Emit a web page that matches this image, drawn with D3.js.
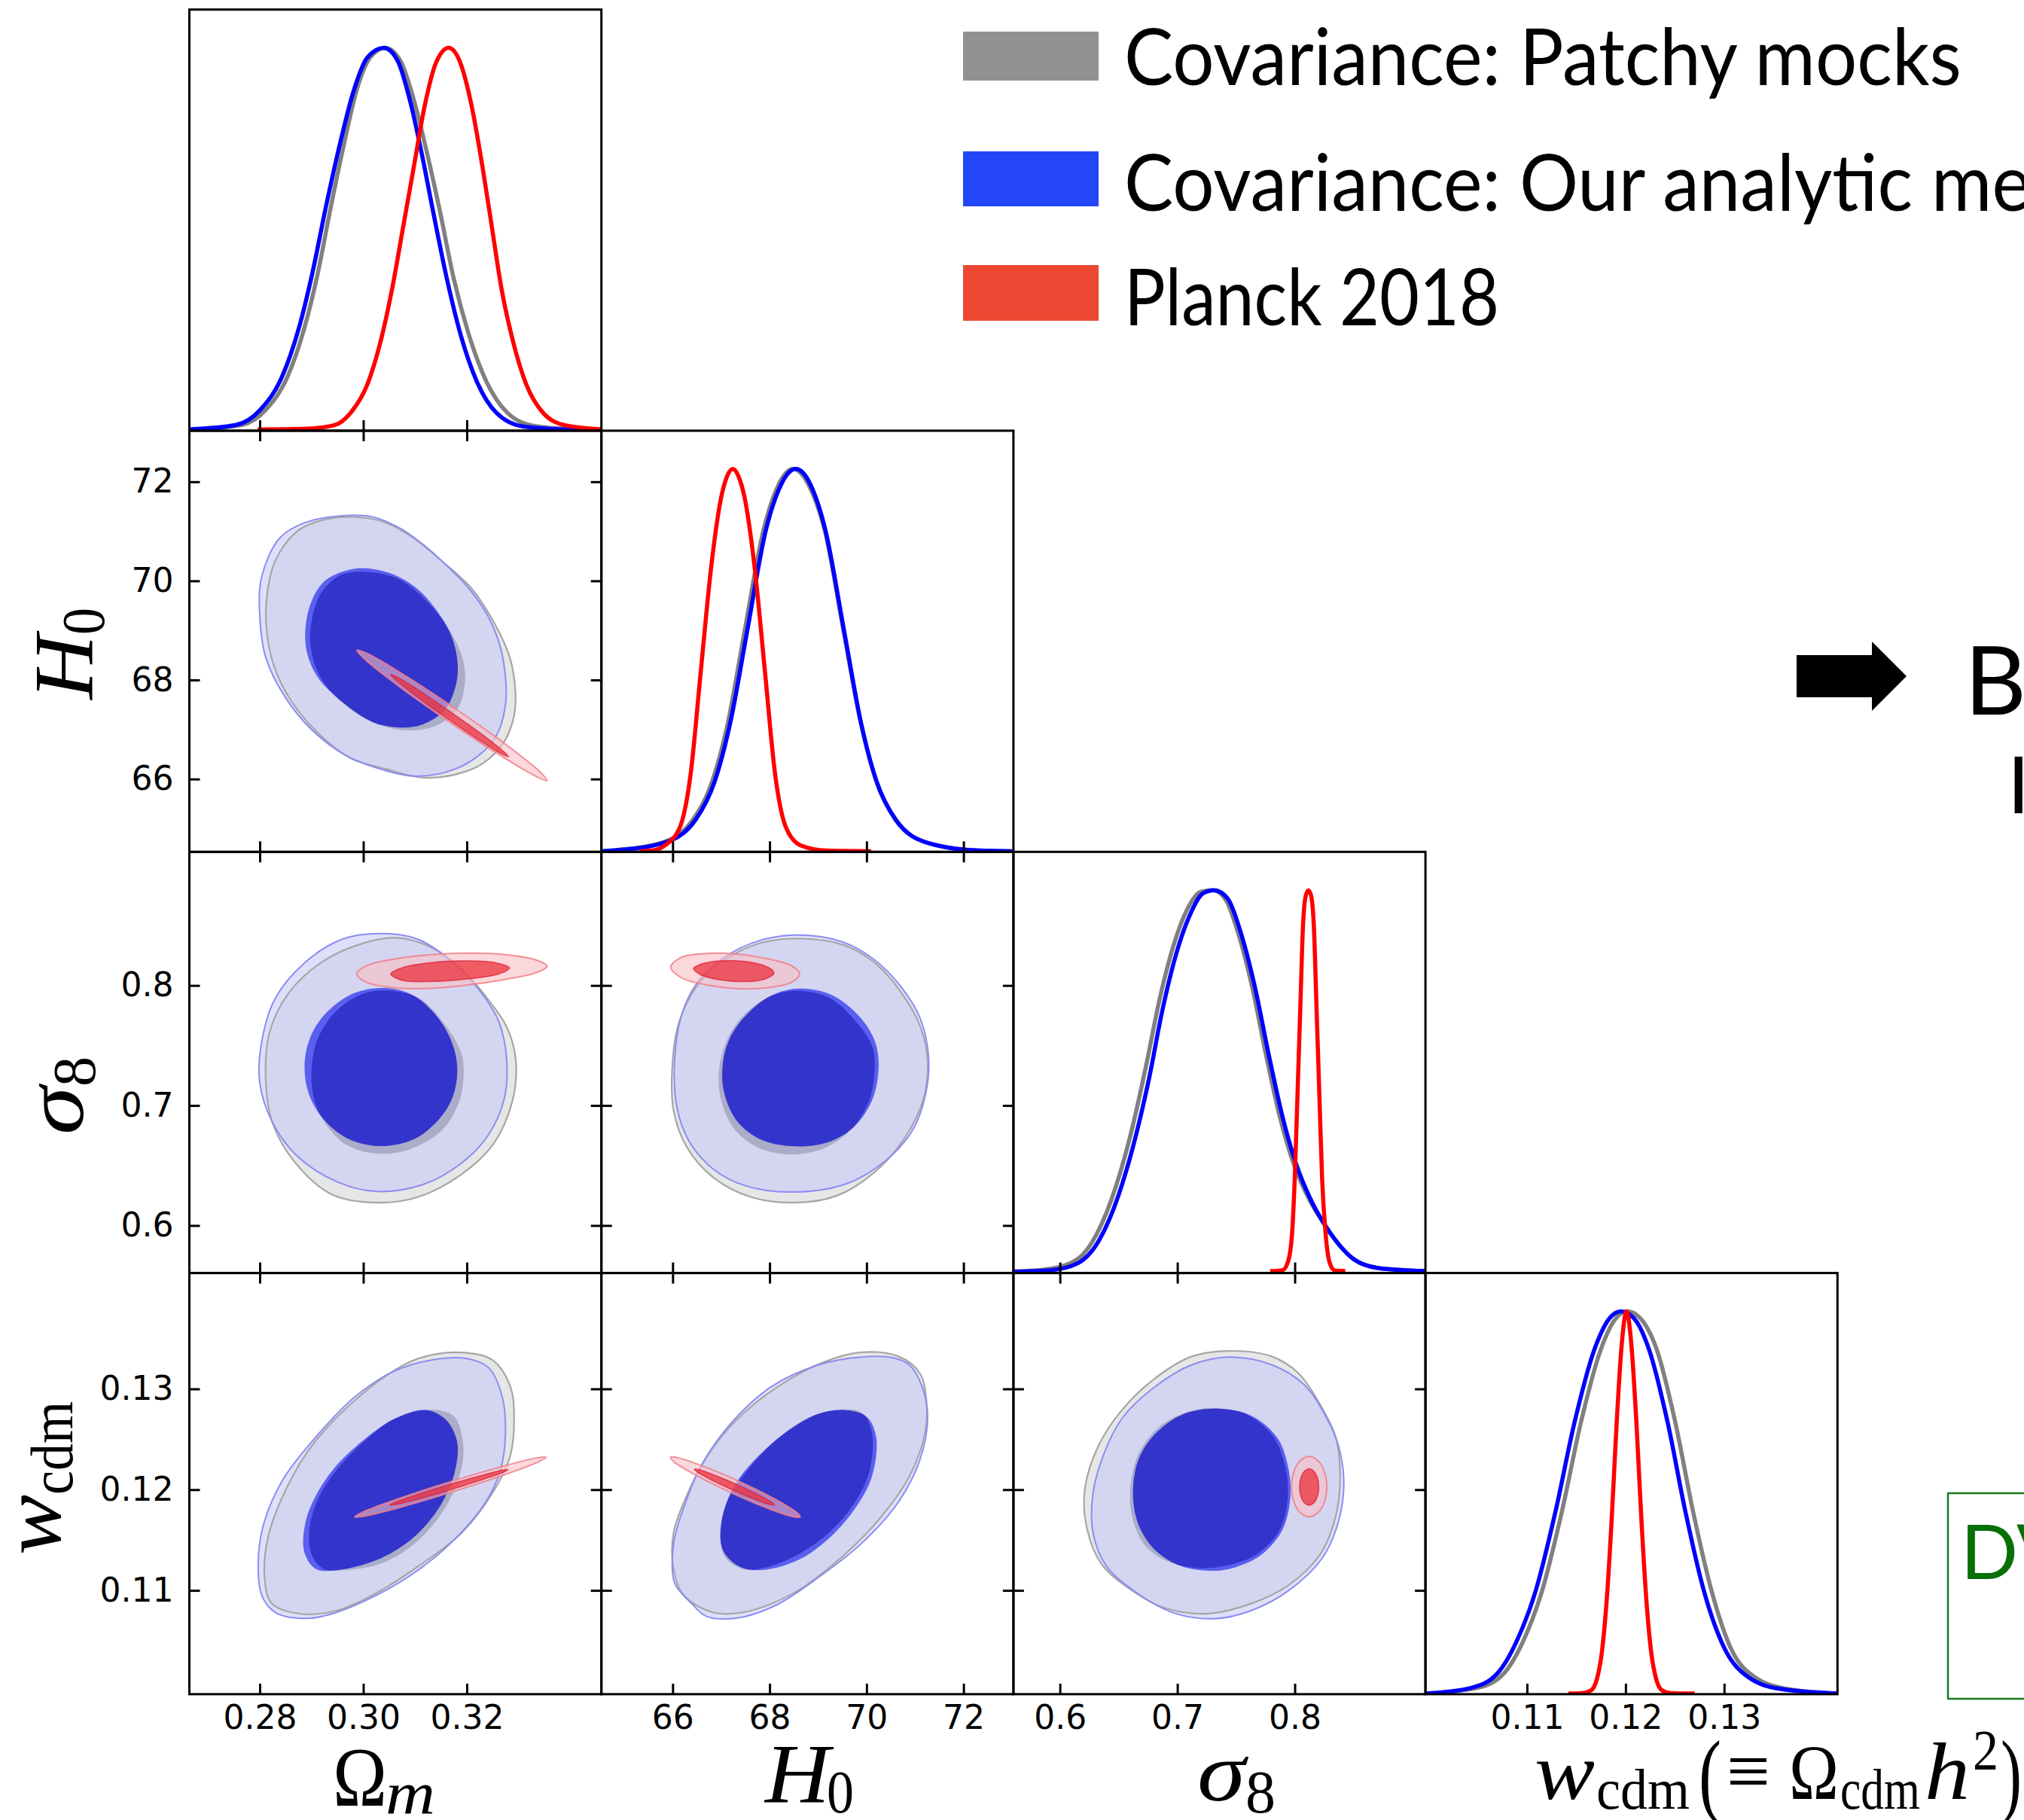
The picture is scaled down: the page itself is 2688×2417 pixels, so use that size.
<!DOCTYPE html>
<html>
<head>
<meta charset="utf-8">
<script src="https://cdn.jsdelivr.net/npm/d3@7"></script>
<style>
  html, body { margin: 0; padding: 0; background: #fff; }
  svg { display: block; }
</style>
</head>
<body>
<svg id="chart" width="2688" height="2417"></svg>
<script>
// ---------------------------------------------------------------------------
// Parameters, axis ranges and tick values
// ---------------------------------------------------------------------------
const paramDomains = [[0.2664, 0.3460], [64.53, 73.03], [0.5604, 0.9113], [0.0997, 0.1415]];
const omegaTicks = [0.28, 0.30, 0.32];
const h0Ticks = [66, 68, 70, 72];
const sigma8Ticks = [0.6, 0.7, 0.8];
const wcdmTicks = [0.11, 0.12, 0.13];
const seriesNames = ["Covariance: Patchy mocks", "Covariance: Our analytic method", "Planck 2018"];

// ---------------------------------------------------------------------------
// 1D marginal posteriors  [value, normalised density]
// ---------------------------------------------------------------------------
const omPatchy1D = [[0.26633,0.0022],[0.2764,0.0146],[0.28117,0.0547],[0.2854,0.1423],[0.28858,0.2664],[0.29123,0.4124],[0.29377,0.5876],[0.29626,0.7482],[0.29865,0.8868],[0.3013,0.9744],[0.30421,1.0],[0.30713,0.9671],[0.31004,0.8503],[0.31242,0.719],[0.31481,0.573],[0.31746,0.3978],[0.32037,0.2518],[0.32381,0.1277],[0.32779,0.0474],[0.33309,0.0124],[0.33891,0.0051],[0.34607,0.0022]];
const omAnalytic1D = [[0.26633,0.0036],[0.27534,0.0146],[0.28011,0.0547],[0.28434,0.1423],[0.28752,0.2664],[0.29017,0.4124],[0.29282,0.5876],[0.29547,0.7482],[0.29812,0.8868],[0.30077,0.9744],[0.30395,1.0],[0.3066,0.9671],[0.30924,0.8503],[0.31136,0.719],[0.31348,0.573],[0.31613,0.3978],[0.31878,0.2518],[0.32196,0.1277],[0.32567,0.0474],[0.33097,0.011],[0.33891,0.0036],[0.34607,0.0022]];
const omPlanck1D = [[0.27958,0.0036],[0.28858,0.0051],[0.29441,0.0146],[0.29759,0.0474],[0.30077,0.1204],[0.30342,0.2372],[0.30554,0.3686],[0.30766,0.5292],[0.30977,0.6898],[0.31189,0.8503],[0.31401,0.9598],[0.3165,1.0],[0.31878,0.9598],[0.3209,0.8503],[0.32302,0.6898],[0.32487,0.5292],[0.32673,0.3686],[0.32885,0.2372],[0.3315,0.1204],[0.33468,0.0474],[0.33891,0.0146],[0.34607,0.0036]];

const h0Patchy1D = [[64.546,0.0017],[64.71,0.0034],[65.76,0.0236],[66.42,0.0844],[66.82,0.1856],[67.14,0.3374],[67.48,0.5736],[67.88,0.8435],[68.19,0.96],[68.34,0.99],[68.49,1.0],[68.64,0.99],[68.80,0.96],[69.13,0.8435],[69.53,0.5736],[69.88,0.3374],[70.20,0.1856],[70.60,0.0844],[71.26,0.0236],[72.32,0.0034],[73.0,0.0017]];
const h0Analytic1D = [[64.546,0.0017],[64.758,0.0034],[65.815,0.0236],[66.476,0.0844],[66.872,0.1856],[67.189,0.3374],[67.533,0.5736],[67.929,0.8435],[68.24,0.96],[68.39,0.99],[68.54,1.0],[68.69,0.99],[68.84,0.96],[69.145,0.8435],[69.542,0.5736],[69.885,0.3374],[70.202,0.1856],[70.599,0.0844],[71.26,0.0236],[72.317,0.0034],[73.004,0.0017]];
const h0Planck1D = [[65.313,0.0017],[65.577,0.0034],[65.841,0.0169],[66.159,0.0675],[66.37,0.2024],[66.581,0.4724],[66.793,0.7423],[67.004,0.9279],[67.12,0.98],[67.242,1.0],[67.36,0.98],[67.48,0.9279],[67.692,0.7423],[67.903,0.4724],[68.114,0.2024],[68.326,0.0675],[68.643,0.0169],[69.172,0.0034],[70.097,0.0017]];

const s8Patchy1D = [[0.56047,0.0036],[0.59186,0.0109],[0.61512,0.0365],[0.6314,0.1021],[0.64767,0.2261],[0.66163,0.3793],[0.67326,0.5398],[0.68488,0.7148],[0.69651,0.8534],[0.70814,0.9482],[0.71977,0.9956],[0.73023,1.0],[0.7407,0.9774],[0.75233,0.8826],[0.76395,0.744],[0.77558,0.5689],[0.78721,0.4085],[0.8,0.2772],[0.81279,0.1896],[0.82442,0.1313],[0.83605,0.0802],[0.85,0.0365],[0.87093,0.0131],[0.91047,0.0051]];
const s8Analytic1D = [[0.56047,0.0036],[0.59186,0.0073],[0.61512,0.0255],[0.63372,0.0875],[0.65,0.2042],[0.66395,0.3501],[0.67558,0.5033],[0.68721,0.6856],[0.69884,0.8315],[0.71047,0.9336],[0.72209,0.992],[0.7314,1.0],[0.74302,0.9774],[0.75465,0.8826],[0.76628,0.744],[0.77791,0.5689],[0.78953,0.4085],[0.80116,0.2845],[0.81279,0.1969],[0.82442,0.1313],[0.83605,0.0802],[0.85,0.0365],[0.87093,0.0131],[0.91047,0.0051]];
const s8Planck1D = [[0.77907,0.0051],[0.78953,0.0073],[0.79419,0.0292],[0.79767,0.1021],[0.8,0.248],[0.80233,0.4668],[0.80465,0.6856],[0.80698,0.9045],[0.8093,0.9847],[0.81163,0.9993],[0.81395,0.9847],[0.81628,0.9045],[0.8186,0.6856],[0.82093,0.4668],[0.82326,0.248],[0.82628,0.1021],[0.82953,0.0292],[0.83372,0.0073],[0.84302,0.0051]];

const wPatchy1D = [[0.0998,0.0017],[0.10503,0.0169],[0.10765,0.054],[0.10961,0.1383],[0.11157,0.2733],[0.11353,0.4757],[0.11549,0.7119],[0.11745,0.8975],[0.11902,0.9818],[0.1202,1.0],[0.1215,0.9818],[0.1232,0.8975],[0.12503,0.7119],[0.12686,0.4757],[0.12869,0.2733],[0.13065,0.1215],[0.13314,0.0439],[0.13641,0.0135],[0.1415,0.0017]];
const wAnalytic1D = [[0.0998,0.0017],[0.10438,0.0169],[0.10699,0.054],[0.10895,0.1383],[0.11092,0.2733],[0.11288,0.4757],[0.11484,0.7119],[0.1168,0.8975],[0.11837,0.9818],[0.11954,1.0],[0.12085,0.9818],[0.12242,0.8975],[0.12425,0.7119],[0.12608,0.4757],[0.12791,0.2733],[0.13,0.1215],[0.13248,0.0439],[0.13575,0.0135],[0.1415,0.0017]];
const wPlanck1D = [[0.1142,0.0017],[0.1156,0.003],[0.1165,0.01],[0.1171,0.04],[0.1176,0.11],[0.1181,0.25],[0.1186,0.46],[0.1191,0.71],[0.1196,0.91],[0.1201,1.0],[0.1206,0.91],[0.1211,0.71],[0.1216,0.46],[0.1221,0.25],[0.1226,0.11],[0.1231,0.04],[0.1237,0.01],[0.1246,0.003],[0.127,0.0017]];

// ---------------------------------------------------------------------------
// 2D credible-region outlines (68% inner, 95% outer)  [x value, y value]
// ---------------------------------------------------------------------------
// Omega_m vs H0
const omH0PatchyOuter = [[0.28127,69.07],[0.28143,69.74],[0.28302,70.41],[0.28699,70.98],[0.29123,71.20],[0.29812,71.29],[0.30448,71.17],[0.30977,70.86],[0.3156,70.36],[0.3209,69.85],[0.32514,69.18],[0.32832,68.45],[0.32938,67.77],[0.32911,67.27],[0.32726,66.76],[0.32302,66.31],[0.31772,66.09],[0.31136,66.03],[0.30448,66.20],[0.29759,66.42],[0.29123,66.93],[0.28593,67.60],[0.28275,68.28]];
const omH0PatchyInner = [[0.28991,69.12],[0.29176,69.74],[0.29547,70.11],[0.30077,70.18],[0.30713,70.02],[0.31242,69.57],[0.31666,69.01],[0.31931,68.39],[0.31958,67.88],[0.31825,67.43],[0.31454,67.10],[0.30925,66.98],[0.30289,67.10],[0.29653,67.49],[0.29176,68.05],[0.28991,68.62]];
const omH0AnalyticOuter = [[0.28037,70.08],[0.28381,70.86],[0.28858,71.17],[0.29547,71.31],[0.30183,71.29],[0.30713,71.06],[0.31136,70.75],[0.3156,70.36],[0.32037,69.85],[0.32408,69.29],[0.32646,68.67],[0.32752,68.00],[0.32752,67.55],[0.3262,66.98],[0.32355,66.59],[0.31772,66.20],[0.30977,66.06],[0.30183,66.25],[0.29653,66.48],[0.29017,66.98],[0.28487,67.66],[0.28117,68.45],[0.28,69.29]];
const omH0AnalyticInner = [[0.28885,69.07],[0.29017,69.63],[0.29282,70.02],[0.29865,70.25],[0.30501,70.16],[0.31031,69.85],[0.31454,69.35],[0.31719,68.84],[0.31825,68.28],[0.31772,67.83],[0.3156,67.38],[0.31136,67.10],[0.30713,67.04],[0.30183,67.15],[0.296,67.55],[0.29123,68.05],[0.28911,68.56]];
const omH0PlanckOuter = [[0.3355,65.97],[0.33345,66.05],[0.32565,66.53],[0.31637,67.17],[0.30729,67.84],[0.30019,68.43],[0.29878,68.60],[0.30083,68.53],[0.30863,68.05],[0.31791,67.41],[0.32699,66.74],[0.33409,66.15]];
const omH0PlanckInner = [[0.32806,66.45],[0.32683,66.50],[0.32202,66.81],[0.31627,67.22],[0.31062,67.64],[0.30617,68.01],[0.30526,68.11],[0.3065,68.06],[0.3113,67.75],[0.31705,67.34],[0.3227,66.92],[0.32716,66.55]];

// Omega_m vs sigma8
const omS8PatchyOuter = [[0.30635,0.83972],[0.3126,0.83275],[0.31886,0.81417],[0.32406,0.78862],[0.32771,0.76539],[0.32948,0.73751],[0.32875,0.70267],[0.32511,0.66783],[0.31886,0.64228],[0.31052,0.62369],[0.30219,0.61905],[0.29385,0.62602],[0.28656,0.65389],[0.2824,0.68641],[0.28115,0.72125],[0.28188,0.76074],[0.28552,0.79326],[0.29177,0.81882],[0.29906,0.83391]];
const omS8PatchyInner = [[0.30531,0.79559],[0.31104,0.78862],[0.31573,0.76771],[0.31865,0.74681],[0.31938,0.73287],[0.31865,0.70499],[0.31521,0.67944],[0.30948,0.66434],[0.30323,0.6597],[0.29698,0.66667],[0.29281,0.68409],[0.29052,0.70499],[0.29,0.73055],[0.29125,0.7561],[0.2949,0.77933],[0.3001,0.79326]];
const omS8AnalyticOuter = [[0.30375,0.84321],[0.31052,0.83856],[0.31677,0.82114],[0.3225,0.79559],[0.32615,0.77003],[0.32771,0.73751],[0.32719,0.70499],[0.32406,0.6748],[0.31886,0.65157],[0.31156,0.63414],[0.30271,0.62834],[0.2949,0.63647],[0.28708,0.65854],[0.2824,0.68641],[0.28,0.71893],[0.28031,0.75145],[0.28292,0.78862],[0.28865,0.81882],[0.29594,0.83856]];
const omS8AnalyticInner = [[0.30427,0.79791],[0.30948,0.7921],[0.31365,0.777],[0.31677,0.7561],[0.31813,0.73287],[0.31729,0.70732],[0.31417,0.68641],[0.30948,0.67131],[0.30323,0.6662],[0.29698,0.67247],[0.29229,0.68873],[0.28948,0.70964],[0.28865,0.73287],[0.28969,0.7561],[0.29281,0.777],[0.29802,0.79326]];
const omS8PlanckOuter = [[0.29875,0.80952],[0.30063,0.81649],[0.30635,0.8223],[0.31365,0.82578],[0.3199,0.82695],[0.32719,0.82578],[0.33344,0.82114],[0.33552,0.81603],[0.33344,0.81069],[0.32719,0.80488],[0.3199,0.80023],[0.3126,0.79744],[0.30635,0.79791],[0.30063,0.80256]];
const omS8PlanckInner = [[0.30531,0.80952],[0.3074,0.81463],[0.31365,0.81928],[0.3199,0.82044],[0.32563,0.81882],[0.32823,0.81463],[0.32615,0.80952],[0.3199,0.80534],[0.3126,0.80325],[0.3074,0.80441]];

// H0 vs sigma8
const h0S8PatchyOuter = [[68.62,0.83902],[69.51,0.83391],[70.17,0.81882],[70.73,0.79326],[71.11,0.76539],[71.26,0.73751],[71.17,0.70499],[70.78,0.67247],[70.17,0.6446],[69.39,0.62485],[68.51,0.61905],[67.62,0.62369],[66.84,0.63995],[66.29,0.6655],[66.02,0.6957],[65.99,0.73055],[66.12,0.76771],[66.51,0.80023],[67.07,0.82114],[67.79,0.83508]];
const h0S8PatchyInner = [[68.56,0.79559],[69.23,0.78978],[69.78,0.77003],[70.12,0.74913],[70.17,0.73287],[70.06,0.70499],[69.67,0.67944],[69.12,0.66434],[68.45,0.65923],[67.79,0.66434],[67.29,0.67944],[67.01,0.70267],[66.95,0.7259],[67.09,0.75145],[67.45,0.77468],[68.01,0.79094]];
const h0S8AnalyticOuter = [[68.62,0.84204],[69.51,0.83624],[70.17,0.82114],[70.73,0.79791],[71.11,0.77236],[71.28,0.73984],[71.22,0.70964],[70.95,0.67944],[70.39,0.65389],[69.62,0.63531],[68.51,0.62787],[67.51,0.63298],[66.84,0.64692],[66.34,0.67015],[66.09,0.69802],[66.04,0.73751],[66.18,0.77468],[66.51,0.80256],[67.07,0.82346],[67.79,0.8374]];
const h0S8AnalyticInner = [[68.62,0.79744],[69.28,0.7921],[69.84,0.77468],[70.17,0.75377],[70.25,0.73287],[70.12,0.70499],[69.73,0.68176],[69.17,0.66899],[68.51,0.66597],[67.84,0.67131],[67.34,0.68641],[67.07,0.70964],[67.03,0.73287],[67.18,0.7561],[67.56,0.777],[68.06,0.7921]];
const h0S8PlanckOuter = [[65.96,0.81533],[66.18,0.82346],[66.73,0.82671],[67.29,0.82625],[67.95,0.8223],[68.45,0.81649],[68.62,0.80952],[68.45,0.80256],[67.90,0.79791],[67.40,0.79721],[66.73,0.80023],[66.18,0.8064]];
const h0S8PlanckInner = [[66.43,0.81417],[66.68,0.81882],[67.18,0.82067],[67.68,0.81882],[68.01,0.81417],[68.09,0.81022],[67.90,0.80534],[67.51,0.80325],[66.95,0.80488],[66.57,0.80906]];

// Omega_m vs w_cdm
const omWPatchyOuter = [[0.31962,0.13359],[0.32495,0.13286],[0.32837,0.13029],[0.32913,0.12736],[0.32837,0.12333],[0.32495,0.11967],[0.31886,0.11564],[0.3105,0.11234],[0.30137,0.10941],[0.29453,0.10795],[0.28768,0.10769],[0.28236,0.10868],[0.28099,0.11088],[0.2816,0.11527],[0.2854,0.1204],[0.29072,0.1248],[0.29909,0.12919],[0.30821,0.13249],[0.31354,0.13341]];
const omWPatchyInner = [[0.31202,0.12791],[0.31734,0.12736],[0.31924,0.1248],[0.31886,0.12187],[0.31582,0.1182],[0.3105,0.11491],[0.30365,0.11271],[0.29605,0.11198],[0.29224,0.11216],[0.28996,0.11363],[0.28966,0.11637],[0.29148,0.1193],[0.29529,0.12223],[0.30099,0.12516],[0.30593,0.127]];
const omWAnalyticOuter = [[0.31354,0.1329],[0.31962,0.13304],[0.32419,0.13212],[0.32685,0.12919],[0.32746,0.12553],[0.32647,0.12187],[0.32342,0.11857],[0.31734,0.11491],[0.3105,0.11198],[0.30213,0.10941],[0.29453,0.10777],[0.2892,0.10722],[0.28312,0.10777],[0.28046,0.10941],[0.2797,0.11271],[0.28084,0.11674],[0.28464,0.12114],[0.29072,0.12516],[0.29833,0.12919],[0.30593,0.13176]];
const omWAnalyticInner = [[0.31202,0.12791],[0.31582,0.127],[0.3181,0.1248],[0.31772,0.12187],[0.31506,0.11857],[0.30974,0.11527],[0.30289,0.11308],[0.29453,0.11198],[0.29072,0.11216],[0.28859,0.11381],[0.28882,0.11674],[0.29072,0.1193],[0.29453,0.12223],[0.30061,0.12516],[0.30593,0.127]];
const omWPlanckOuter = [[0.33536,0.12322],[0.33377,0.12274],[0.3264,0.12132],[0.31718,0.11977],[0.30787,0.11835],[0.30021,0.11736],[0.29833,0.11729],[0.29993,0.11777],[0.30729,0.11919],[0.31651,0.12074],[0.32582,0.12216],[0.33348,0.12315]];
const omWPlanckInner = [[0.32799,0.12198],[0.32698,0.12171],[0.32242,0.12089],[0.31674,0.11997],[0.31101,0.11913],[0.30631,0.11852],[0.30517,0.11846],[0.30618,0.11873],[0.31074,0.11955],[0.31642,0.12047],[0.32215,0.12131],[0.32685,0.12192]];

// H0 vs w_cdm
const h0WPatchyOuter = [[69.89,0.13363],[70.66,0.13322],[71.10,0.13155],[71.23,0.12906],[71.21,0.12573],[70.88,0.12129],[70.22,0.11685],[69.34,0.11269],[68.46,0.10964],[67.47,0.10784],[66.81,0.10784],[66.21,0.10964],[66.01,0.11241],[66.02,0.11574],[66.26,0.11907],[66.70,0.12323],[67.36,0.12712],[68.24,0.13044],[69.12,0.13266]];
const h0WPatchyInner = [[69.45,0.12795],[69.89,0.12767],[70.11,0.12573],[70.06,0.12184],[69.73,0.11852],[69.23,0.11574],[68.57,0.11352],[67.91,0.11227],[67.47,0.11208],[67.09,0.11325],[66.98,0.11546],[67.12,0.11879],[67.53,0.12184],[68.13,0.1249],[68.79,0.12712]];
const h0WAnalyticOuter = [[69.89,0.13316],[70.55,0.13308],[70.88,0.13239],[71.15,0.13017],[71.26,0.12712],[71.10,0.12295],[70.66,0.11879],[69.89,0.11463],[69.01,0.1113],[68.13,0.10853],[67.36,0.10728],[66.70,0.10742],[66.37,0.10881],[66.04,0.11075],[66.02,0.11463],[66.21,0.11796],[66.59,0.1224],[67.25,0.12684],[68.02,0.13017],[69.01,0.13239]];
const h0WAnalyticInner = [[69.56,0.12789],[70.0,0.12725],[70.20,0.12517],[70.11,0.12129],[69.78,0.11824],[69.23,0.11519],[68.57,0.11297],[67.80,0.112],[67.36,0.11241],[67.03,0.11408],[67.01,0.11685],[67.25,0.12018],[67.69,0.12295],[68.35,0.12573],[69.01,0.12753]];
const h0WPlanckOuter = [[68.63,0.11727],[68.44,0.11737],[67.83,0.1184],[67.15,0.11983],[66.50,0.12138],[66.02,0.12278],[65.96,0.12323],[66.14,0.12313],[66.75,0.1221],[67.44,0.12067],[68.09,0.11912],[68.56,0.11772]];
const h0WPlanckInner = [[68.10,0.11846],[67.99,0.11854],[67.63,0.11917],[67.20,0.12004],[66.80,0.12096],[66.50,0.12178],[66.45,0.12204],[66.56,0.12196],[66.92,0.12133],[67.35,0.12046],[67.75,0.11954],[68.05,0.11872]];

// sigma8 vs w_cdm
const s8WPatchyOuter = [[0.74408,0.13377],[0.78044,0.13322],[0.80316,0.13155],[0.82134,0.1285],[0.83498,0.12517],[0.83861,0.12129],[0.83498,0.11741],[0.82134,0.11352],[0.79407,0.11047],[0.76226,0.10867],[0.7259,0.1077],[0.68954,0.10825],[0.66227,0.10992],[0.635,0.11269],[0.62227,0.11657],[0.62136,0.12018],[0.63272,0.12434],[0.65318,0.12795],[0.68045,0.131],[0.71226,0.13322]];
const s8WPatchyInner = [[0.73044,0.12809],[0.75771,0.12753],[0.78044,0.12545],[0.7918,0.1224],[0.79407,0.11935],[0.78725,0.11602],[0.7668,0.11352],[0.73953,0.11241],[0.71681,0.11222],[0.68954,0.11297],[0.67136,0.11463],[0.66136,0.11741],[0.66,0.12018],[0.66681,0.12351],[0.68499,0.12628],[0.70772,0.12767]];
const s8WAnalyticOuter = [[0.74408,0.13316],[0.78044,0.13239],[0.80771,0.13044],[0.82589,0.12739],[0.83725,0.12434],[0.8418,0.12073],[0.83725,0.11685],[0.82361,0.11324],[0.79407,0.10992],[0.76226,0.10797],[0.73271,0.1072],[0.69863,0.1077],[0.66681,0.10964],[0.63954,0.11241],[0.62818,0.11574],[0.62818,0.11963],[0.63727,0.12351],[0.65318,0.12712],[0.68045,0.13017],[0.71226,0.13239]];
const s8WAnalyticInner = [[0.73044,0.12803],[0.76226,0.12739],[0.78498,0.12517],[0.79407,0.1224],[0.79634,0.11935],[0.78953,0.11602],[0.77135,0.11352],[0.74862,0.11227],[0.73044,0.11194],[0.70317,0.11241],[0.68045,0.11408],[0.66681,0.11657],[0.66227,0.11963],[0.66681,0.12295],[0.68045,0.12545],[0.70317,0.12739]];
const s8WPlanckOuter = [[0.82725,0.12029],[0.82525,0.11879],[0.81975,0.1177],[0.81225,0.1173],[0.80475,0.1177],[0.79925,0.11879],[0.79725,0.12029],[0.79925,0.12179],[0.80475,0.12288],[0.81225,0.12329],[0.81975,0.12288],[0.82525,0.12179]];
const s8WPlanckInner = [[0.82043,0.12026],[0.81934,0.11936],[0.81634,0.1187],[0.81225,0.11846],[0.80816,0.1187],[0.80516,0.11936],[0.80407,0.12026],[0.80516,0.12116],[0.80816,0.12182],[0.81225,0.12207],[0.81634,0.12182],[0.81934,0.12116]];

// ---------------------------------------------------------------------------
// Assemble the triangle
// ---------------------------------------------------------------------------
const paramTicks = [omegaTicks, h0Ticks, sigma8Ticks, wcdmTicks];
const tickFormats = [d3.format(".2f"), d3.format("d"), d3.format(".1f"), d3.format(".2f")];

const marginals = [
  { p: 0, patchy: omPatchy1D, analytic: omAnalytic1D, planck: omPlanck1D },
  { p: 1, patchy: h0Patchy1D, analytic: h0Analytic1D, planck: h0Planck1D },
  { p: 2, patchy: s8Patchy1D, analytic: s8Analytic1D, planck: s8Planck1D },
  { p: 3, patchy: wPatchy1D, analytic: wAnalytic1D, planck: wPlanck1D }
];

const pairs = [
  { row: 1, col: 0, patchy: [omH0PatchyOuter, omH0PatchyInner], analytic: [omH0AnalyticOuter, omH0AnalyticInner], planck: [omH0PlanckOuter, omH0PlanckInner] },
  { row: 2, col: 0, patchy: [omS8PatchyOuter, omS8PatchyInner], analytic: [omS8AnalyticOuter, omS8AnalyticInner], planck: [omS8PlanckOuter, omS8PlanckInner] },
  { row: 2, col: 1, patchy: [h0S8PatchyOuter, h0S8PatchyInner], analytic: [h0S8AnalyticOuter, h0S8AnalyticInner], planck: [h0S8PlanckOuter, h0S8PlanckInner] },
  { row: 3, col: 0, patchy: [omWPatchyOuter, omWPatchyInner], analytic: [omWAnalyticOuter, omWAnalyticInner], planck: [omWPlanckOuter, omWPlanckInner] },
  { row: 3, col: 1, patchy: [h0WPatchyOuter, h0WPatchyInner], analytic: [h0WAnalyticOuter, h0WAnalyticInner], planck: [h0WPlanckOuter, h0WPlanckInner] },
  { row: 3, col: 2, patchy: [s8WPatchyOuter, s8WPatchyInner], analytic: [s8WAnalyticOuter, s8WAnalyticInner], planck: [s8WPlanckOuter, s8WPlanckInner] }
];

// grid geometry
const G = { left: 251.5, top: 12.7, w: 547.2, h: 559.3, tick: 14 };
const xScale = c => d3.scaleLinear().domain(paramDomains[c]).range([G.left + c * G.w, G.left + (c + 1) * G.w]);
const yScale = r => d3.scaleLinear().domain(paramDomains[r]).range([G.top + (r + 1) * G.h, G.top + r * G.h]);
const densityScale = r => d3.scaleLinear().domain([0, 1.1]).range([G.top + (r + 1) * G.h, G.top + r * G.h]);

const style = {
  lineColors: { patchy: "#808080", analytic: "#0000ff", planck: "#ff0000" },
  grayOuter: "#e6e6e6", grayOuterEdge: "#a6a6a6",
  grayInner: "rgba(128,130,160,0.5)",
  blueOuter: "rgba(200,203,248,0.6)", blueOuterEdge: "#8c8cf2",
  blueInner: "#5a5ff0", overlapInner: "rgba(5,0,160,0.45)",
  redOuter: "rgba(248,190,195,0.6)", redOuterEdge: "rgba(242,125,135,0.85)",
  redInner: "rgba(235,40,50,0.7)", redInnerEdge: "rgba(225,35,60,0.8)"
};

const svg = d3.select("#chart");
svg.append("rect").attr("width", 2688).attr("height", 2417).attr("fill", "#fff");
const defs = svg.append("defs");

function panelClip(r, c) {
  const id = `clip-${r}-${c}`;
  defs.append("clipPath").attr("id", id).append("rect")
    .attr("x", G.left + c * G.w).attr("y", G.top + r * G.h)
    .attr("width", G.w).attr("height", G.h);
  return `url(#${id})`;
}

// filled 2D regions
pairs.forEach((pp, k) => {
  const x = xScale(pp.col), y = yScale(pp.row);
  const shape = d3.line().x(d => x(d[0])).y(d => y(d[1])).curve(d3.curveCatmullRomClosed.alpha(0.5));
  const g = svg.append("g").attr("clip-path", panelClip(pp.row, pp.col));

  g.append("path").attr("d", shape(pp.patchy[0])).attr("fill", style.grayOuter);
  g.append("path").attr("d", shape(pp.analytic[0])).attr("fill", style.blueOuter);
  g.append("path").attr("d", shape(pp.patchy[0])).attr("fill", "none")
    .attr("stroke", style.grayOuterEdge).attr("stroke-width", 2.2);
  g.append("path").attr("d", shape(pp.analytic[0])).attr("fill", "none")
    .attr("stroke", style.blueOuterEdge).attr("stroke-width", 2);

  g.append("path").attr("d", shape(pp.patchy[1])).attr("fill", style.grayInner);
  g.append("path").attr("d", shape(pp.analytic[1])).attr("fill", style.blueInner);

  // where both 68% regions coincide the blue is darker
  const innerId = `inner-${k}`;
  defs.append("clipPath").attr("id", innerId).append("path").attr("d", shape(pp.analytic[1]));
  g.append("g").attr("clip-path", `url(#${innerId})`)
    .append("path").attr("d", shape(pp.patchy[1])).attr("fill", style.overlapInner);

  g.append("path").attr("d", shape(pp.planck[0])).attr("fill", style.redOuter)
    .attr("stroke", style.redOuterEdge).attr("stroke-width", 2);
  g.append("path").attr("d", shape(pp.planck[1])).attr("fill", style.redInner)
    .attr("stroke", style.redInnerEdge).attr("stroke-width", 1.5);
});

// 1D marginals on the diagonal
marginals.forEach(m => {
  const x = xScale(m.p), y = densityScale(m.p);
  const curve = d3.line().x(d => x(d[0])).y(d => y(d[1])).curve(d3.curveMonotoneX);
  const g = svg.append("g").attr("clip-path", panelClip(m.p, m.p));
  ["patchy", "analytic", "planck"].forEach(s => {
    g.append("path").attr("d", curve(m[s])).attr("fill", "none")
      .attr("stroke", style.lineColors[s]).attr("stroke-width", 5.5)
      .attr("stroke-linejoin", "round");
  });
});

// frames and inward ticks
const axesLayer = svg.append("g");
function styleTicks(sel) {
  sel.select(".domain").remove();
  sel.selectAll(".tick line").attr("stroke", "#000").attr("stroke-width", 3);
}
for (let r = 0; r < 4; r++) {
  for (let c = 0; c <= r; c++) {
    const x0 = G.left + c * G.w, y0 = G.top + r * G.h;
    const x = xScale(c), y = yScale(r);
    axesLayer.append("g").attr("transform", `translate(0,${y0 + G.h})`)
      .call(d3.axisBottom(x).tickValues(paramTicks[c]).tickSize(-G.tick).tickFormat("")).call(styleTicks);
    if (r !== c) {
      axesLayer.append("g").attr("transform", `translate(0,${y0})`)
        .call(d3.axisTop(x).tickValues(paramTicks[c]).tickSize(-G.tick).tickFormat("")).call(styleTicks);
      axesLayer.append("g").attr("transform", `translate(${x0},0)`)
        .call(d3.axisLeft(y).tickValues(paramTicks[r]).tickSize(-G.tick).tickFormat("")).call(styleTicks);
      axesLayer.append("g").attr("transform", `translate(${x0 + G.w},0)`)
        .call(d3.axisRight(y).tickValues(paramTicks[r]).tickSize(-G.tick).tickFormat("")).call(styleTicks);
    }
    axesLayer.append("rect").attr("x", x0).attr("y", y0).attr("width", G.w).attr("height", G.h)
      .attr("fill", "none").attr("stroke", "#000").attr("stroke-width", 3);
  }
}

// tick labels: bottom row and first column
const tickFont = { family: "DejaVu Sans", size: 44 };
for (let c = 0; c < 4; c++) {
  const ax = svg.append("g").attr("transform", `translate(0,${G.top + 4 * G.h})`)
    .call(d3.axisBottom(xScale(c)).tickValues(paramTicks[c]).tickSize(0).tickPadding(15).tickFormat(tickFormats[c]));
  ax.select(".domain").remove();
  ax.selectAll("text").attr("font-family", tickFont.family).attr("font-size", tickFont.size).attr("fill", "#000");
}
for (let r = 1; r < 4; r++) {
  const ax = svg.append("g").attr("transform", `translate(${G.left},0)`)
    .call(d3.axisLeft(yScale(r)).tickValues(paramTicks[r]).tickSize(0).tickPadding(21).tickFormat(tickFormats[r]));
  ax.select(".domain").remove();
  ax.selectAll("text").attr("font-family", tickFont.family).attr("font-size", tickFont.size).attr("fill", "#000");
}

// axis titles (math-style): one text element per title, each glyph run placed and sized explicitly
const mathFont = "Liberation Serif, DejaVu Serif, serif";
function mathTitle(parent, parts, transform) {
  const t = parent.append("text").attr("font-family", mathFont).attr("fill", "#000");
  if (transform) t.attr("transform", transform);
  parts.forEach(p => {
    const s = t.append("tspan").attr("x", p.x).attr("y", p.y).attr("font-size", p.size).text(p.t);
    if (p.italic) s.attr("font-style", "italic");
    if (p.len) s.attr("textLength", p.len).attr("lengthAdjust", "spacingAndGlyphs");
  });
  return t;
}
const labels = svg.append("g");
mathTitle(labels, [
  { t: "Ω", x: 442, y: 2398, size: 112, len: 72 },
  { t: "m", x: 512, y: 2408, size: 80, italic: true, len: 66 }
]);
mathTitle(labels, [
  { t: "H", x: 1016, y: 2393, size: 112, italic: true, len: 86 },
  { t: "0", x: 1098, y: 2407, size: 80, len: 36 }
]);
mathTitle(labels, [
  { t: "σ", x: 1590, y: 2391, size: 112, italic: true, len: 64 },
  { t: "8", x: 1654, y: 2407, size: 80, len: 40 }
]);
mathTitle(labels, [
  { t: "w", x: 2038, y: 2389, size: 108, italic: true, len: 80 },
  { t: "cdm", x: 2120, y: 2402, size: 76, len: 124 },
  { t: "(", x: 2256, y: 2398, size: 124, len: 30 },
  { t: "≡", x: 2293, y: 2387, size: 104, len: 58 },
  { t: "Ω", x: 2376, y: 2389, size: 104, len: 66 },
  { t: "cdm", x: 2444, y: 2402, size: 76, len: 106 },
  { t: "h", x: 2556, y: 2389, size: 108, italic: true, len: 60 },
  { t: "2", x: 2620, y: 2350, size: 76, len: 34 },
  { t: ")", x: 2657, y: 2398, size: 124, len: 28 }
]);

// rotated titles on the left (text reads bottom-to-top)
function leftTitle(main, sub, bx, cy, mainLen, subLen) {
  const x0 = -(mainLen + subLen) / 2;
  mathTitle(labels, [
    { t: main, x: x0, y: 0, size: 112, italic: true, len: mainLen },
    { t: sub, x: x0 + mainLen, y: 16, size: 80, len: subLen }
  ], `translate(${bx},${cy}) rotate(-90)`);
}
leftTitle("H", "0", 122, 868, 86, 36);
leftTitle("σ", "8", 110, 1455, 64, 40);
leftTitle("w", "cdm", 80, 1963, 80, 124);

// legend
const legendPatches = [
  { y: 42, h: 65, color: "#919191" },
  { y: 201, h: 73, color: "#2347f8" },
  { y: 352, h: 74, color: "#ec4733" }
];
const legendBaselines = [113, 280, 432];
const legend = svg.append("g");
legendPatches.forEach(p => legend.append("rect").attr("x", 1279).attr("y", p.y)
  .attr("width", 180).attr("height", p.h).attr("fill", p.color));
const legendTexts = seriesNames.map((name, i) => {
  const g = legend.append("g");
  const t = g.append("text").text(name).attr("font-family", "Lato, 'Open Sans', sans-serif")
    .attr("font-size", 104).attr("fill", "#000");
  return { g, t, i };
});
// the legend face is narrow; squeeze the available sans horizontally to match
const sxMain = 1112 / legendTexts[0].t.node().getComputedTextLength();
const sxLast = 498 / legendTexts[2].t.node().getComputedTextLength();
legendTexts.forEach(({ g, i }) => g.attr("transform",
  `translate(1493,${legendBaselines[i]}) scale(${i === 2 ? sxLast : sxMain},1)`));

// right-hand annotations
const notes = svg.append("g").attr("font-family", "Lato, 'Open Sans', sans-serif");
notes.append("path").attr("d", "M2386,870 H2486 V852 L2532,898 L2486,944 V926 H2386 Z").attr("fill", "#000");
notes.append("text").text("B").attr("x", 2609).attr("y", 949).attr("font-size", 127).attr("fill", "#000");
notes.append("text").text("I").attr("x", 2666).attr("y", 1080).attr("font-size", 105).attr("fill", "#000");
notes.append("rect").attr("x", 2587).attr("y", 1983).attr("width", 200).attr("height", 273)
  .attr("fill", "none").attr("stroke", "#1b7a1b").attr("stroke-width", 2.5);
notes.append("text").text("DV").attr("x", 2604).attr("y", 2097).attr("font-size", 100).attr("fill", "#077007");
</script>
</body>
</html>
